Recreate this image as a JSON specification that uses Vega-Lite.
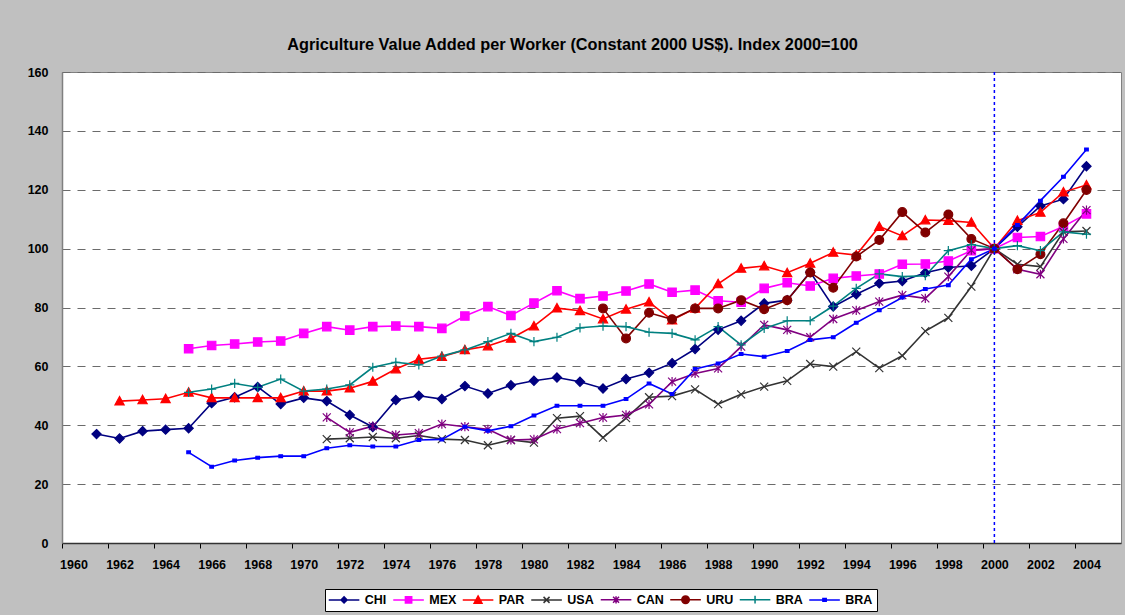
{
  "$schema": "https://vega.github.io/schema/vega-lite/v6.json",
  "width": 1059,
  "height": 471,
  "autosize": {"type": "none"},
  "padding": {"left": 62, "top": 72, "right": 4, "bottom": 72},
  "background": "#c0c0c0",
  "title": {"text": "Agriculture Value Added per Worker (Constant 2000 US$). Index 2000=100", "font": "Liberation Sans", "fontSize": 16.3, "fontWeight": "bold", "color": "#000000", "anchor": "middle", "dx": -19, "offset": 13},
  "config": {"view": {"fill": "white", "stroke": "#808080", "strokeWidth": 1}, "font": "Liberation Sans"},
  "datasets": {
    "d": [
      {"s":"CHI","year":1961,"v":37},{"s":"CHI","year":1962,"v":35.5},{"s":"CHI","year":1963,"v":38},{"s":"CHI","year":1964,"v":38.5},{"s":"CHI","year":1965,"v":39},{"s":"CHI","year":1966,"v":47.5},{"s":"CHI","year":1967,"v":49.5},{"s":"CHI","year":1968,"v":53},{"s":"CHI","year":1969,"v":47.2},{"s":"CHI","year":1970,"v":49.3},{"s":"CHI","year":1971,"v":48.2},{"s":"CHI","year":1972,"v":43.5},{"s":"CHI","year":1973,"v":39.4},{"s":"CHI","year":1974,"v":48.6},{"s":"CHI","year":1975,"v":50},{"s":"CHI","year":1976,"v":48.9},{"s":"CHI","year":1977,"v":53.3},{"s":"CHI","year":1978,"v":50.8},{"s":"CHI","year":1979,"v":53.6},{"s":"CHI","year":1980,"v":55.1},{"s":"CHI","year":1981,"v":56.2},{"s":"CHI","year":1982,"v":54.8},{"s":"CHI","year":1983,"v":52.5},{"s":"CHI","year":1984,"v":55.7},{"s":"CHI","year":1985,"v":57.8},{"s":"CHI","year":1986,"v":61.1},{"s":"CHI","year":1987,"v":65.9},{"s":"CHI","year":1988,"v":72.4},{"s":"CHI","year":1989,"v":75.5},{"s":"CHI","year":1990,"v":81.4},{"s":"CHI","year":1991,"v":82.5},{"s":"CHI","year":1992,"v":92},{"s":"CHI","year":1993,"v":80.3},{"s":"CHI","year":1994,"v":84.5},{"s":"CHI","year":1995,"v":88.2},{"s":"CHI","year":1996,"v":89},{"s":"CHI","year":1997,"v":91.8},{"s":"CHI","year":1998,"v":93.6},{"s":"CHI","year":1999,"v":94.2},{"s":"CHI","year":2000,"v":100},{"s":"CHI","year":2001,"v":107.4},{"s":"CHI","year":2002,"v":114.5},{"s":"CHI","year":2003,"v":116.8},{"s":"CHI","year":2004,"v":128},
      {"s":"MEX","year":1965,"v":66},{"s":"MEX","year":1966,"v":67.1},{"s":"MEX","year":1967,"v":67.6},{"s":"MEX","year":1968,"v":68.3},{"s":"MEX","year":1969,"v":68.6},{"s":"MEX","year":1970,"v":71.2},{"s":"MEX","year":1971,"v":73.5},{"s":"MEX","year":1972,"v":72.3},{"s":"MEX","year":1973,"v":73.5},{"s":"MEX","year":1974,"v":73.7},{"s":"MEX","year":1975,"v":73.5},{"s":"MEX","year":1976,"v":72.9},{"s":"MEX","year":1977,"v":77.1},{"s":"MEX","year":1978,"v":80.3},{"s":"MEX","year":1979,"v":77.3},{"s":"MEX","year":1980,"v":81.5},{"s":"MEX","year":1981,"v":85.7},{"s":"MEX","year":1982,"v":83},{"s":"MEX","year":1983,"v":83.9},{"s":"MEX","year":1984,"v":85.6},{"s":"MEX","year":1985,"v":88},{"s":"MEX","year":1986,"v":85.2},{"s":"MEX","year":1987,"v":85.9},{"s":"MEX","year":1988,"v":82.3},{"s":"MEX","year":1989,"v":81.8},{"s":"MEX","year":1990,"v":86.5},{"s":"MEX","year":1991,"v":88.4},{"s":"MEX","year":1992,"v":87.3},{"s":"MEX","year":1993,"v":89.9},{"s":"MEX","year":1994,"v":90.7},{"s":"MEX","year":1995,"v":91.4},{"s":"MEX","year":1996,"v":94.7},{"s":"MEX","year":1997,"v":94.8},{"s":"MEX","year":1998,"v":95.8},{"s":"MEX","year":1999,"v":99.3},{"s":"MEX","year":2000,"v":100},{"s":"MEX","year":2001,"v":103.8},{"s":"MEX","year":2002,"v":104.1},{"s":"MEX","year":2003,"v":107.5},{"s":"MEX","year":2004,"v":111.8},
      {"s":"PAR","year":1962,"v":48.2},{"s":"PAR","year":1963,"v":48.6},{"s":"PAR","year":1964,"v":49},{"s":"PAR","year":1965,"v":51.2},{"s":"PAR","year":1966,"v":49.3},{"s":"PAR","year":1967,"v":49.3},{"s":"PAR","year":1968,"v":49.3},{"s":"PAR","year":1969,"v":49.3},{"s":"PAR","year":1970,"v":51.6},{"s":"PAR","year":1971,"v":51.6},{"s":"PAR","year":1972,"v":52.6},{"s":"PAR","year":1973,"v":54.9},{"s":"PAR","year":1974,"v":59.1},{"s":"PAR","year":1975,"v":62.4},{"s":"PAR","year":1976,"v":63.3},{"s":"PAR","year":1977,"v":65.6},{"s":"PAR","year":1978,"v":66.9},{"s":"PAR","year":1979,"v":69.5},{"s":"PAR","year":1980,"v":73.7},{"s":"PAR","year":1981,"v":79.8},{"s":"PAR","year":1982,"v":78.9},{"s":"PAR","year":1983,"v":76.1},{"s":"PAR","year":1984,"v":79.4},{"s":"PAR","year":1985,"v":81.8},{"s":"PAR","year":1986,"v":75.7},{"s":"PAR","year":1987,"v":79.7},{"s":"PAR","year":1988,"v":88},{"s":"PAR","year":1989,"v":93.3},{"s":"PAR","year":1990,"v":94.1},{"s":"PAR","year":1991,"v":91.8},{"s":"PAR","year":1992,"v":95},{"s":"PAR","year":1993,"v":98.7},{"s":"PAR","year":1994,"v":97.8},{"s":"PAR","year":1995,"v":107.5},{"s":"PAR","year":1996,"v":104.3},{"s":"PAR","year":1997,"v":109.7},{"s":"PAR","year":1998,"v":109.5},{"s":"PAR","year":1999,"v":108.9},{"s":"PAR","year":2000,"v":100},{"s":"PAR","year":2001,"v":109.5},{"s":"PAR","year":2002,"v":112.3},{"s":"PAR","year":2003,"v":119.2},{"s":"PAR","year":2004,"v":121.6},
      {"s":"USA","year":1971,"v":35.3},{"s":"USA","year":1972,"v":35.6},{"s":"USA","year":1973,"v":36},{"s":"USA","year":1974,"v":35.6},{"s":"USA","year":1975,"v":36.5},{"s":"USA","year":1976,"v":35.3},{"s":"USA","year":1977,"v":35},{"s":"USA","year":1978,"v":33.2},{"s":"USA","year":1979,"v":35},{"s":"USA","year":1980,"v":34.1},{"s":"USA","year":1981,"v":42.4},{"s":"USA","year":1982,"v":43.1},{"s":"USA","year":1983,"v":35.8},{"s":"USA","year":1984,"v":42.4},{"s":"USA","year":1985,"v":49.5},{"s":"USA","year":1986,"v":49.9},{"s":"USA","year":1987,"v":52.2},{"s":"USA","year":1988,"v":47.2},{"s":"USA","year":1989,"v":50.5},{"s":"USA","year":1990,"v":53.1},{"s":"USA","year":1991,"v":55.1},{"s":"USA","year":1992,"v":60.8},{"s":"USA","year":1993,"v":59.9},{"s":"USA","year":1994,"v":65},{"s":"USA","year":1995,"v":59.4},{"s":"USA","year":1996,"v":63.6},{"s":"USA","year":1997,"v":72},{"s":"USA","year":1998,"v":76.5},{"s":"USA","year":1999,"v":87.1},{"s":"USA","year":2000,"v":100},{"s":"USA","year":2001,"v":94.7},{"s":"USA","year":2002,"v":93.9},{"s":"USA","year":2003,"v":105.7},{"s":"USA","year":2004,"v":106},
      {"s":"CAN","year":1971,"v":42.7},{"s":"CAN","year":1972,"v":37.6},{"s":"CAN","year":1973,"v":39.7},{"s":"CAN","year":1974,"v":36.7},{"s":"CAN","year":1975,"v":37.3},{"s":"CAN","year":1976,"v":40.4},{"s":"CAN","year":1977,"v":39.5},{"s":"CAN","year":1978,"v":38.6},{"s":"CAN","year":1979,"v":35},{"s":"CAN","year":1980,"v":35.2},{"s":"CAN","year":1981,"v":38.7},{"s":"CAN","year":1982,"v":40.7},{"s":"CAN","year":1983,"v":42.6},{"s":"CAN","year":1984,"v":43.5},{"s":"CAN","year":1985,"v":47.1},{"s":"CAN","year":1986,"v":54.8},{"s":"CAN","year":1987,"v":57.6},{"s":"CAN","year":1988,"v":59.3},{"s":"CAN","year":1989,"v":66.7},{"s":"CAN","year":1990,"v":74.1},{"s":"CAN","year":1991,"v":72.4},{"s":"CAN","year":1992,"v":69.9},{"s":"CAN","year":1993,"v":76.1},{"s":"CAN","year":1994,"v":79},{"s":"CAN","year":1995,"v":82},{"s":"CAN","year":1996,"v":84.2},{"s":"CAN","year":1997,"v":83.1},{"s":"CAN","year":1998,"v":90.5},{"s":"CAN","year":1999,"v":99.5},{"s":"CAN","year":2000,"v":100},{"s":"CAN","year":2001,"v":93},{"s":"CAN","year":2002,"v":91.3},{"s":"CAN","year":2003,"v":103.3},{"s":"CAN","year":2004,"v":113.1},
      {"s":"URU","year":1983,"v":79.7},{"s":"URU","year":1984,"v":69.5},{"s":"URU","year":1985,"v":78.2},{"s":"URU","year":1986,"v":76},{"s":"URU","year":1987,"v":79.7},{"s":"URU","year":1988,"v":79.7},{"s":"URU","year":1989,"v":82.5},{"s":"URU","year":1990,"v":79.4},{"s":"URU","year":1991,"v":82.5},{"s":"URU","year":1992,"v":91.9},{"s":"URU","year":1993,"v":86.7},{"s":"URU","year":1994,"v":97.3},{"s":"URU","year":1995,"v":102.9},{"s":"URU","year":1996,"v":112.4},{"s":"URU","year":1997,"v":105.5},{"s":"URU","year":1998,"v":111.6},{"s":"URU","year":1999,"v":103.3},{"s":"URU","year":2000,"v":100},{"s":"URU","year":2001,"v":93},{"s":"URU","year":2002,"v":98.1},{"s":"URU","year":2003,"v":108.6},{"s":"URU","year":2004,"v":119.9},
      {"s":"BRA","year":1965,"v":51.2},{"s":"BRA","year":1966,"v":52.3},{"s":"BRA","year":1967,"v":54.2},{"s":"BRA","year":1968,"v":52.9},{"s":"BRA","year":1969,"v":55.7},{"s":"BRA","year":1970,"v":51.6},{"s":"BRA","year":1971,"v":52.3},{"s":"BRA","year":1972,"v":53.7},{"s":"BRA","year":1973,"v":59.7},{"s":"BRA","year":1974,"v":61.4},{"s":"BRA","year":1975,"v":60.5},{"s":"BRA","year":1976,"v":63.5},{"s":"BRA","year":1977,"v":65.6},{"s":"BRA","year":1978,"v":68.4},{"s":"BRA","year":1979,"v":71.2},{"s":"BRA","year":1980,"v":68.4},{"s":"BRA","year":1981,"v":69.9},{"s":"BRA","year":1982,"v":73.1},{"s":"BRA","year":1983,"v":73.7},{"s":"BRA","year":1984,"v":73.5},{"s":"BRA","year":1985,"v":71.6},{"s":"BRA","year":1986,"v":71.2},{"s":"BRA","year":1987,"v":69},{"s":"BRA","year":1988,"v":73.5},{"s":"BRA","year":1989,"v":67.3},{"s":"BRA","year":1990,"v":72.9},{"s":"BRA","year":1991,"v":75.5},{"s":"BRA","year":1992,"v":75.5},{"s":"BRA","year":1993,"v":80.5},{"s":"BRA","year":1994,"v":86.5},{"s":"BRA","year":1995,"v":91.4},{"s":"BRA","year":1996,"v":90.5},{"s":"BRA","year":1997,"v":90.8},{"s":"BRA","year":1998,"v":99.3},{"s":"BRA","year":1999,"v":101.4},{"s":"BRA","year":2000,"v":100},{"s":"BRA","year":2001,"v":101},{"s":"BRA","year":2002,"v":99.3},{"s":"BRA","year":2003,"v":105.7},{"s":"BRA","year":2004,"v":104.9},
      {"s":"BRA2","year":1965,"v":30.8},{"s":"BRA2","year":1966,"v":25.9},{"s":"BRA2","year":1967,"v":28},{"s":"BRA2","year":1968,"v":29},{"s":"BRA2","year":1969,"v":29.5},{"s":"BRA2","year":1970,"v":29.5},{"s":"BRA2","year":1971,"v":32.2},{"s":"BRA2","year":1972,"v":33.2},{"s":"BRA2","year":1973,"v":32.8},{"s":"BRA2","year":1974,"v":32.8},{"s":"BRA2","year":1975,"v":35},{"s":"BRA2","year":1976,"v":35.2},{"s":"BRA2","year":1977,"v":39.5},{"s":"BRA2","year":1978,"v":38.1},{"s":"BRA2","year":1979,"v":39.7},{"s":"BRA2","year":1980,"v":43.3},{"s":"BRA2","year":1981,"v":46.6},{"s":"BRA2","year":1982,"v":46.6},{"s":"BRA2","year":1983,"v":46.6},{"s":"BRA2","year":1984,"v":48.9},{"s":"BRA2","year":1985,"v":54.2},{"s":"BRA2","year":1986,"v":50.6},{"s":"BRA2","year":1987,"v":59.1},{"s":"BRA2","year":1988,"v":61},{"s":"BRA2","year":1989,"v":64.2},{"s":"BRA2","year":1990,"v":63.3},{"s":"BRA2","year":1991,"v":65.2},{"s":"BRA2","year":1992,"v":69},{"s":"BRA2","year":1993,"v":69.9},{"s":"BRA2","year":1994,"v":74.8},{"s":"BRA2","year":1995,"v":79.1},{"s":"BRA2","year":1996,"v":83.4},{"s":"BRA2","year":1997,"v":86.3},{"s":"BRA2","year":1998,"v":87.6},{"s":"BRA2","year":1999,"v":96.4},{"s":"BRA2","year":2000,"v":100},{"s":"BRA2","year":2001,"v":108},{"s":"BRA2","year":2002,"v":116.3},{"s":"BRA2","year":2003,"v":124.4},{"s":"BRA2","year":2004,"v":133.7}
    ],
    "ref": [{"year": 2000}]
  },
  "layer": [
    {
      "data": {"name": "d"},
      "mark": {"type": "line", "strokeWidth": 1.6},
      "encoding": {
        "x": {"field": "year", "type": "quantitative", "scale": {"domain": [1959.5, 2005.5], "nice": false, "zero": false},
          "axis": {"values": [1960,1962,1964,1966,1968,1970,1972,1974,1976,1978,1980,1982,1984,1986,1988,1990,1992,1994,1996,1998,2000,2002,2004], "format": "d", "tickOffset": -11.5, "labelOffset": 11.5, "tickSize": 5, "tickColor": "#000000", "tickWidth": 1, "domainColor": "#333333", "domainWidth": 1.5, "grid": false, "labelFont": "Liberation Sans", "labelFontSize": 12.5, "labelFontWeight": "bold", "labelColor": "#000000", "labelPadding": 10, "labelFlush": false, "labelOverlap": false, "title": null}},
        "y": {"field": "v", "type": "quantitative", "scale": {"domain": [0, 160], "nice": false},
          "axis": {"values": [0,20,40,60,80,100,120,140,160], "ticks": false, "domainColor": "#808080", "domainWidth": 1.5, "grid": true, "gridColor": "#6b6b6b", "gridDash": [8, 7], "gridWidth": 1.2, "labelFont": "Liberation Sans", "labelFontSize": 12.5, "labelFontWeight": "bold", "labelColor": "#000000", "labelPadding": 14, "title": null}},
        "color": {"field": "s", "type": "nominal",
          "scale": {"domain": ["CHI","MEX","PAR","USA","CAN","URU","BRA","BRA2"], "range": ["#000080","#ff00ff","#ff0000","#333333","#800080","#800000","#008080","#0000ff"]}}
      }
    },
    {
      "data": {"name": "d"},
      "mark": {"type": "point", "filled": true, "opacity": 0, "size": 36},
      "encoding": {
        "x": {"field": "year", "type": "quantitative"},
        "y": {"field": "v", "type": "quantitative"},
        "color": {"field": "s", "type": "nominal",
          "legend": {"orient": "none", "legendX": 263, "legendY": 517, "direction": "horizontal", "columns": 8, "title": null, "fillColor": "white", "strokeColor": "#000000", "padding": 4, "labelFont": "Liberation Sans", "labelFontSize": 12.5, "labelFontWeight": "bold", "labelColor": "#000000", "symbolSize": 36, "symbolStrokeWidth": 1.5, "symbolOpacity": 1, "symbolOffset": 8.8, "labelOffset": 14.5, "columnPadding": 2.5,
            "labelExpr": "replace(datum.label, '2', '')",
            "encode": {"legend": {"strokeWidth": {"value": 1.5}}}
          },
          "scale": {"domain": ["CHI","MEX","PAR","USA","CAN","URU","BRA","BRA2"], "range": ["#000080","#ff00ff","#ff0000","#333333","#800080","#800000","#008080","#0000ff"]}},
        "stroke": {"field": "s", "type": "nominal",
          "scale": {"domain": ["CHI","MEX","PAR","USA","CAN","URU","BRA","BRA2"], "range": ["#000080","#ff00ff","#ff0000","#333333","#800080","#800000","#008080","#0000ff"]}},
        "shape": {"field": "s", "type": "nominal",
          "scale": {"domain": ["CHI","MEX","PAR","USA","CAN","URU","BRA","BRA2"], "range": ["M-5.1,0H5.1M0,-1.0L1.0,0L0,1.0L-1.0,0Z", "M-5.1,0H5.1M-1.05,-1.05H1.05V1.05H-1.05Z", "M-5.1,0H5.1M0,-1.3L1.3,1.1H-1.3Z", "M-5.1,0H5.1M-1,-1L1,1M-1,1L1,-1", "M-5.1,0H5.1M-1,-1L1,1M-1,1L1,-1M0,-1.2V1.2", "M-5.1,0H5.1M-1.25,0A1.25,1.25,0,1,0,1.25,0A1.25,1.25,0,1,0,-1.25,0Z", "M-5.1,0H5.1M0,-1.3V1.3", "M-5.1,0H5.1M-0.55,-0.45H0.55V0.45H-0.55Z"]}}
      }
    },
    {"data": {"name": "d"}, "transform": [{"filter": "datum.s === 'CHI'"}], "mark": {"type": "point", "shape": "M0,-1.15L1.15,0L0,1.15L-1.15,0Z", "filled": true, "fill": "#000080", "stroke": "#000080", "strokeWidth": 1.2, "size": 64, "opacity": 1}, "encoding": {"x": {"field": "year", "type": "quantitative"}, "y": {"field": "v", "type": "quantitative"}}},
    {"data": {"name": "d"}, "transform": [{"filter": "datum.s === 'MEX'"}], "mark": {"type": "point", "shape": "M-1.05,-1.05H1.05V1.05H-1.05Z", "filled": true, "fill": "#ff00ff", "stroke": "#ff00ff", "strokeWidth": 1.2, "size": 64, "opacity": 1}, "encoding": {"x": {"field": "year", "type": "quantitative"}, "y": {"field": "v", "type": "quantitative"}}},
    {"data": {"name": "d"}, "transform": [{"filter": "datum.s === 'PAR'"}], "mark": {"type": "point", "shape": "M0,-1.15L1.15,0.95H-1.15Z", "filled": true, "fill": "#ff0000", "stroke": "#ff0000", "strokeWidth": 1.2, "size": 64, "opacity": 1}, "encoding": {"x": {"field": "year", "type": "quantitative"}, "y": {"field": "v", "type": "quantitative"}}},
    {"data": {"name": "d"}, "transform": [{"filter": "datum.s === 'USA'"}], "mark": {"type": "point", "shape": "M-1,-1L1,1M-1,1L1,-1", "filled": true, "fill": "#333333", "stroke": "#333333", "strokeWidth": 1.2, "size": 64, "opacity": 1}, "encoding": {"x": {"field": "year", "type": "quantitative"}, "y": {"field": "v", "type": "quantitative"}}},
    {"data": {"name": "d"}, "transform": [{"filter": "datum.s === 'CAN'"}], "mark": {"type": "point", "shape": "M-1,-1L1,1M-1,1L1,-1M0,-1.15V1.15", "filled": true, "fill": "#800080", "stroke": "#800080", "strokeWidth": 1.2, "size": 64, "opacity": 1}, "encoding": {"x": {"field": "year", "type": "quantitative"}, "y": {"field": "v", "type": "quantitative"}}},
    {"data": {"name": "d"}, "transform": [{"filter": "datum.s === 'URU'"}], "mark": {"type": "point", "shape": "M-1.1,0A1.1,1.1,0,1,0,1.1,0A1.1,1.1,0,1,0,-1.1,0Z", "filled": true, "fill": "#800000", "stroke": "#800000", "strokeWidth": 1.2, "size": 64, "opacity": 1}, "encoding": {"x": {"field": "year", "type": "quantitative"}, "y": {"field": "v", "type": "quantitative"}}},
    {"data": {"name": "d"}, "transform": [{"filter": "datum.s === 'BRA'"}], "mark": {"type": "point", "shape": "M-1.15,0H1.15M0,-1.15V1.15", "filled": true, "fill": "#008080", "stroke": "#008080", "strokeWidth": 1.2, "size": 64, "opacity": 1}, "encoding": {"x": {"field": "year", "type": "quantitative"}, "y": {"field": "v", "type": "quantitative"}}},
    {"data": {"name": "d"}, "transform": [{"filter": "datum.s === 'BRA2'"}], "mark": {"type": "point", "shape": "M-0.45,-0.35H0.45V0.35H-0.45Z", "filled": true, "fill": "#0000ff", "stroke": "#0000ff", "strokeWidth": 1.2, "size": 64, "opacity": 1}, "encoding": {"x": {"field": "year", "type": "quantitative"}, "y": {"field": "v", "type": "quantitative"}}},
    {
      "data": {"name": "ref"},
      "mark": {"type": "rule", "color": "#0000ff", "strokeDash": [3, 3], "strokeWidth": 1.5},
      "encoding": {"x": {"field": "year", "type": "quantitative"}}
    }
  ]
}
